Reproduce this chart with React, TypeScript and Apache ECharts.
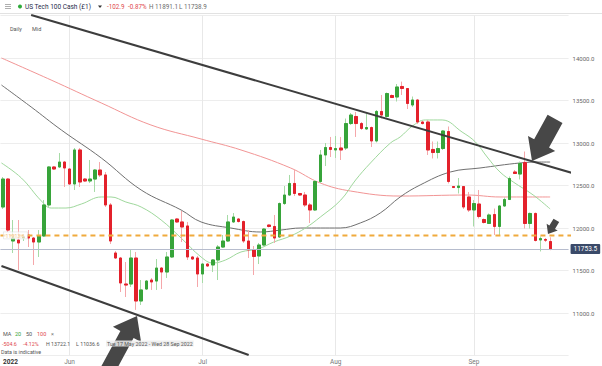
import React, { useEffect, useRef } from 'react';
import * as echarts from 'echarts';

const FONT = 'Roboto, "Noto Sans", sans-serif';
const TOTAL_SLOTS = 111; // Sun–Fri trading slots shown on the axis (from Tue 17 May 2022)

// Daily candles (open, close, low, high), Tue 17 May 2022 onwards
const opens = [
  12247, 12576, 11847, 11859, 11882, 11918, 11882, 11835, 11906, 12271,
  12718, 12718, 12776, 12694, 12518, 12918, 12576, 12553, 12576, 12682,
  12624, 12271, 11706, 11647, 11341, 11341, 11647, 11141, 11282, 11388,
  11376, 11529, 11482, 11659, 12106, 12071, 12024, 11659, 11647, 11459,
  11576, 11565, 11624, 11776, 11847, 12071, 12106, 12076, 11847, 11741,
  11671, 11800, 12035, 12018, 11894, 12288, 12388, 12524, 12406, 12388,
  12271, 12212, 12547, 12859, 12947, 12918, 12941, 12941, 13229, 13312,
  13229, 13165, 13182, 13024, 13371, 13312, 13559, 13541, 13665, 13641,
  13447, 13506, 13247, 13247, 12924, 12888, 12935, 13135, 12488, 12476,
  12488, 12365, 12212, 12282, 12100, 12053, 12159, 12018, 12259, 12335,
  12659, 12635, 12771, 12053, 12171, 11859, 11865, 11841,
];
const closes = [
  12576, 11976, 11882, 11824, 11894, 11882, 11835, 11906, 12271, 12718,
  12694, 12776, 12706, 12518, 12918, 12541, 12553, 12576, 12682, 12624,
  12271, 11847, 11647, 11353, 11329, 11647, 11141, 11271, 11376, 11365,
  11529, 11482, 11659, 12094, 12071, 12012, 11659, 11635, 11459, 11576,
  11553, 11624, 11776, 11847, 12071, 12129, 12076, 11847, 11741, 11665,
  11800, 11988, 12018, 11882, 12288, 12388, 12524, 12406, 12388, 12271,
  12212, 12547, 12859, 12947, 12924, 12935, 12918, 13229, 13329, 13229,
  13171, 13182, 13024, 13371, 13329, 13582, 13535, 13659, 13641, 13465,
  13506, 13247, 13229, 12918, 12888, 12935, 13141, 12547, 12476, 12494,
  12247, 12212, 12288, 12135, 12065, 12153, 12018, 12259, 12335, 12582,
  12641, 12759, 12053, 12171, 11853, 11876, 11856, 11753.5,
];
const lows = [
  12224, 11953, 11706, 11506, 11847, 11776, 11565, 11659, 11894, 12247,
  12682, 12706, 12482, 12506, 12447, 12482, 12541, 12529, 12424, 12600,
  12247, 11812, 11635, 11247, 11188, 11306, 11036.6, 11094, 11271, 11271,
  11271, 11282, 11412, 11647, 12059, 11835, 11624, 11624, 11306, 11353,
  11541, 11482, 11388, 11765, 11835, 12059, 12065, 11824, 11647, 11447,
  11576, 11788, 12006, 11824, 11882, 12271, 12376, 12376, 12376, 12247,
  12059, 12200, 12529, 12729, 12835, 12824, 12800, 12918, 13212, 13071,
  13153, 13153, 12953, 13006, 13288, 13300, 13529, 13488, 13565, 13400,
  13424, 13224, 13218, 12859, 12818, 12818, 12918, 12524, 12471, 12406,
  12224, 12188, 12018, 12112, 12053, 12047, 11918, 11918, 12247, 12329,
  12635, 12571, 11994, 11994, 11841, 11724, 11835, 11738.9,
];
const highs = [
  12600, 12588, 12094, 12094, 11929, 11976, 11894, 11976, 12329, 12729,
  12729, 12882, 12788, 12706, 12941, 12941, 12588, 12800, 12694, 12776,
  12659, 12294, 11729, 11659, 11600, 11753, 11718, 11388, 11388, 11412,
  11635, 11541, 11718, 12106, 12118, 12200, 12071, 11671, 11671, 11588,
  11588, 11635, 11800, 11918, 12153, 12176, 12118, 12088, 11976, 11788,
  11824, 12000, 12041, 12153, 12300, 12494, 12624, 12682, 12412, 12424,
  12294, 12565, 12918, 13000, 13071, 13082, 13071, 13288, 13353, 13365,
  13247, 13347, 13194, 13388, 13565, 13594, 13571, 13694, 13722.1, 13647,
  13547, 13518, 13259, 13271, 13018, 13018, 13153, 13194, 12494, 12588,
  12494, 12424, 12329, 12447, 12112, 12171, 12229, 12271, 12359, 12606,
  12682, 12782, 12900, 12182, 12182, 11900, 11882, 11891.1,
];

// Moving averages: [slot index, value]
const ma20Idx = [-0.3, 3.6, 7.5, 9.4, 12.3, 15.3, 19.2, 21.1, 24.0, 27.0, 30.9, 34.8, 38.7, 41.0, 43.5, 46.5, 49.8, 52.9, 56.2, 59.1, 62.0, 66.0, 68.9, 71.8, 75.7, 77.6, 80.0, 82.5, 85.8, 89.7, 92.3, 94.6, 97.1, 99.7, 103.6, 106.9];
const ma20Val = [12765, 12588, 12318, 12235, 12235, 12282, 12365, 12365, 12306, 12247, 12094, 11882, 11659, 11588, 11624, 11718, 11753, 11835, 11906, 12000, 12129, 12329, 12565, 12765, 13000, 13071, 13200, 13271, 13271, 13129, 13012, 12835, 12659, 12541, 12388, 12224];
const ma50Idx = [-0.3, 5.5, 11.4, 19.2, 27.0, 34.8, 38.7, 44.5, 50.3, 54.3, 58.2, 65.9, 69.8, 73.7, 77.6, 81.5, 87.4, 93.2, 101.0, 104.9, 106.9];
const ma50Val = [13682, 13424, 13153, 12824, 12447, 12212, 12071, 12000, 11953, 11976, 12000, 12000, 12059, 12176, 12365, 12506, 12659, 12706, 12765, 12776, 12776];
const ma100Idx = [-0.3, 9.4, 19.2, 28.9, 38.7, 46.5, 56.2, 62.0, 67.9, 77.6, 90.7, 97.1, 106.9];
const ma100Val = [14000, 13741, 13471, 13212, 13047, 12918, 12706, 12529, 12435, 12376, 12388, 12365, 12365];

// Drawn trend channel lines: [slot index, price]
const upperTrend = [[5.5, 14506], [117.0, 12546]];
const lowerTrend = [[-0.3, 11553], [48.0, 10506]];

const levelPrice = 11913;
const levelLabel = '11913.6';
const lastPrice = 11753.5;

const yMin = 10500;
const yMax = 14500;
const yStep = 500;

const monthNames = ['Jan', 'Feb', 'Mar', 'Apr', 'May', 'Jun', 'Jul', 'Aug', 'Sep', 'Oct', 'Nov', 'Dec'];

function buildDates(): string[] {
  const out: string[] = [];
  const d = new Date(Date.UTC(2022, 4, 17));
  while (out.length < TOTAL_SLOTS) {
    if (d.getUTCDay() !== 6) out.push(d.toISOString().slice(0, 10));
    d.setUTCDate(d.getUTCDate() + 1);
  }
  return out;
}

function arrowPoints(tx: number, ty: number, dx: number, dy: number, len: number, headLen: number, headHalf: number, shaftHalf: number) {
  const n = Math.hypot(dx, dy);
  const ux = dx / n, uy = dy / n;
  const px = -uy, py = ux;
  const nx = tx - ux * headLen, ny = ty - uy * headLen;
  const bx = tx - ux * len, by = ty - uy * len;
  return [
    [tx, ty],
    [nx + px * headHalf, ny + py * headHalf],
    [nx + px * shaftHalf, ny + py * shaftHalf],
    [bx + px * shaftHalf, by + py * shaftHalf],
    [bx - px * shaftHalf, by - py * shaftHalf],
    [nx - px * shaftHalf, ny - py * shaftHalf],
    [nx - px * headHalf, ny - py * headHalf],
  ];
}

export default function App() {
  const ref = useRef<HTMLDivElement>(null);

  useEffect(() => {
    document.body.style.margin = '0';
    if (!ref.current) return;
    const chart = echarts.init(ref.current, undefined, { renderer: 'svg' });
    const dates = buildDates();
    const monthIdx: number[] = [];
    for (let i = 1; i < dates.length; i++) {
      if (dates[i].slice(5, 7) !== dates[i - 1].slice(5, 7)) monthIdx.push(i);
    }
    const labelSet = new Set<number>([0, ...monthIdx]);

    const wickData = opens.map((o, i) => [o, closes[i], lows[i], highs[i]]);
    const bodyData = opens.map((o, i) => [o, closes[i], Math.min(o, closes[i]), Math.max(o, closes[i])]);
    const pairs = (a: number[], b: number[]) => a.map((v, i) => [v, b[i]]);

    chart.setOption({
      animation: false,
      grid: { left: -0.87, top: 15.5, width: 569.43, height: 340 },
      xAxis: [
        {
          type: 'category',
          data: dates,
          boundaryGap: true,
          axisLine: { show: false },
          axisTick: { show: false },
          splitLine: { show: false },
          axisLabel: {
            interval: (i: number) => labelSet.has(i),
            formatter: (v: string, i: number) => (i === 0 ? '{y|2022}' : monthNames[parseInt(v.slice(5, 7), 10) - 1]),
            color: '#777',
            fontSize: 6.5,
            fontFamily: FONT,
            margin: 3,
            alignMinLabel: 'left',
            rich: { y: { color: '#333', fontSize: 6.5, fontWeight: 'bold', fontFamily: FONT } },
          },
        },
        { type: 'value', min: -0.5, max: TOTAL_SLOTS - 0.5, show: false },
      ],
      yAxis: {
        type: 'value',
        position: 'right',
        min: yMin,
        max: yMax,
        interval: yStep,
        axisLine: { show: false },
        axisTick: { show: false },
        splitLine: { lineStyle: { color: '#ededed', width: 1 } },
        axisLabel: {
          formatter: (v: number) => v.toFixed(1),
          color: '#666',
          fontSize: 6,
          fontFamily: FONT,
          margin: 4,
          showMinLabel: false,
          showMaxLabel: false,
        },
      },
      series: [
        {
          type: 'line',
          xAxisIndex: 1,
          data: [[monthIdx[0], yMax]],
          symbol: 'none',
          lineStyle: { opacity: 0 },
          silent: true,
          z: 0,
          markLine: {
            silent: true,
            symbol: ['none', 'none'],
            label: { show: false },
            lineStyle: { color: '#e8e8e8', width: 1, type: 'solid' },
            data: monthIdx.map((i) => ({ xAxis: i })),
            z: 0,
          },
        },
        { type: 'line', xAxisIndex: 1, data: pairs(ma100Idx, ma100Val), smooth: 0.4, symbol: 'none', lineStyle: { color: '#f29595', width: 1 }, z: 2, silent: true },
        { type: 'line', xAxisIndex: 1, data: pairs(ma50Idx, ma50Val), smooth: 0.4, symbol: 'none', lineStyle: { color: '#707070', width: 1 }, z: 2, silent: true },
        { type: 'line', xAxisIndex: 1, data: pairs(ma20Idx, ma20Val), smooth: 0.4, symbol: 'none', lineStyle: { color: '#9fd89c', width: 1 }, z: 2, silent: true },
        {
          type: 'candlestick',
          xAxisIndex: 0,
          data: wickData,
          barWidth: 3,
          silent: true,
          z: 3,
          itemStyle: { color: 'rgba(0,0,0,0)', color0: 'rgba(0,0,0,0)', borderColor: '#a6dba6', borderColor0: '#f5a7aa', borderWidth: 1 },
        },
        {
          type: 'candlestick',
          xAxisIndex: 0,
          data: bodyData,
          barWidth: 3,
          silent: true,
          z: 4,
          itemStyle: { color: '#37a43a', color0: '#e3212b', borderColor: '#37a43a', borderColor0: '#e3212b', borderWidth: 1 },
          markLine: {
            silent: true,
            symbol: ['none', 'none'],
            data: [{ yAxis: lastPrice }],
            lineStyle: { color: '#b6bccd', width: 1, type: 'solid' },
            label: {
              show: true,
              position: 'end',
              formatter: lastPrice.toFixed(1),
              color: '#fff',
              backgroundColor: '#3a4a69',
              fontSize: 6.5,
              fontFamily: FONT,
              padding: [2, 3, 1, 3],
              borderRadius: 1,
              distance: 2,
            },
          },
        },
        {
          type: 'line',
          xAxisIndex: 1,
          data: [[-0.5, levelPrice], [130, levelPrice]],
          symbol: 'none',
          clip: false,
          silent: true,
          z: 5,
          lineStyle: { color: '#f0aa3c', width: 2, type: [5, 4] },
        },
        { type: 'line', xAxisIndex: 1, data: upperTrend, symbol: 'none', clip: false, silent: true, z: 6, lineStyle: { color: '#3d3d3d', width: 2 } },
        { type: 'line', xAxisIndex: 1, data: lowerTrend, symbol: 'none', clip: false, silent: true, z: 6, lineStyle: { color: '#3d3d3d', width: 2 } },
      ],
    });

    const [lx, ly] = chart.convertToPixel({ xAxisIndex: 1, yAxisIndex: 0 }, [-0.3, levelPrice]) as number[];

    const txt = (x: number, y: number, text: string, fill: string, size: number, weight: string = 'normal') => ({
      type: 'text',
      x,
      y,
      z: 20,
      style: { text, fill, fontSize: size, fontFamily: FONT, fontWeight: weight, align: 'left', verticalAlign: 'middle' },
    });
    const arrowStyle = { fill: '#474747' };
    const rangeText = txt(106, 343.5, 'Tue 17 May 2022 - Wed 28 Sep 2022', '#555', 5.3);
    (rangeText.style as any).backgroundColor = 'rgba(236,236,236,0.85)';
    (rangeText.style as any).padding = [1, 1, 0, 1];

    chart.setOption({
      graphic: [
        { type: 'rect', shape: { x: 0, y: 0, width: 602, height: 13 }, style: { fill: '#fff' }, z: 15 },
        { type: 'line', shape: { x1: 0, y1: 13.5, x2: 602, y2: 13.5 }, style: { stroke: '#e2e2e2', lineWidth: 1 }, z: 16 },
        { type: 'line', shape: { x1: 5, y1: 4.5, x2: 11, y2: 4.5 }, style: { stroke: '#9a9a9a', lineWidth: 0.8 }, z: 20 },
        { type: 'line', shape: { x1: 5, y1: 6.5, x2: 11, y2: 6.5 }, style: { stroke: '#9a9a9a', lineWidth: 0.8 }, z: 20 },
        { type: 'line', shape: { x1: 5, y1: 8.5, x2: 11, y2: 8.5 }, style: { stroke: '#9a9a9a', lineWidth: 0.8 }, z: 20 },
        { type: 'circle', shape: { cx: 20, cy: 6.5, r: 2 }, style: { fill: '#2eaa3a' }, z: 20 },
        txt(25, 6.8, 'US Tech 100 Cash (£1)', '#1e2b4a', 6.5),
        { type: 'polygon', shape: { points: [[98, 5.5], [102, 5.5], [100, 8]] }, style: { fill: '#333' }, z: 20 },
        txt(107, 6.8, '-102.9', '#e0474c', 6.3),
        txt(128, 6.8, '-0.87%', '#e0474c', 6.3),
        txt(149, 6.8, 'H 11891.1', '#6a6a6a', 6.3),
        txt(179, 6.8, 'L 11738.9', '#6a6a6a', 6.3),
        txt(10, 29, 'Daily', '#555', 5.5),
        txt(32, 29, 'Mid', '#555', 5.5),
        {
          type: 'rect',
          shape: { x: lx + 2, y: ly - 3.5, width: 24, height: 7 },
          style: { fill: 'rgba(255,255,255,0.7)', stroke: '#dddddd', lineWidth: 0.6 },
          z: 18,
        },
        { ...txt(lx + 4, ly + 0.3, levelLabel, '#f2c48a', 5.3), z: 19 },
        { type: 'polygon', shape: { points: arrowPoints(137, 316, 0.476, -0.88, 66, 21, 16, 7.5) }, style: arrowStyle, z: 12 },
        { type: 'polygon', shape: { points: arrowPoints(532, 161, -0.48, 0.877, 48, 20, 15.5, 8.5) }, style: arrowStyle, z: 12 },
        { type: 'polygon', shape: { points: arrowPoints(548, 234, -0.52, 0.85, 16, 8, 6.5, 3.3) }, style: arrowStyle, z: 12 },
        txt(3, 334, 'MA', '#555', 5.5),
        txt(15, 334, '20', '#37a43a', 5.5),
        txt(26, 334, '50', '#555', 5.5),
        txt(37, 334, '100', '#e0474c', 5.5),
        txt(51, 334, '×', '#777', 5.5),
        txt(2, 343.5, '-504.6', '#e0474c', 5.3),
        txt(23, 343.5, '-4.12%', '#e0474c', 5.3),
        txt(46, 343.5, 'H 13722.1', '#555', 5.3),
        txt(76, 343.5, 'L 11036.6', '#555', 5.3),
        rangeText,
        txt(1, 351.5, 'Data is indicative', '#555', 5.3),
      ],
    });

    return () => chart.dispose();
  }, []);

  return <div ref={ref} style={{ width: 602, height: 366 }} />;
}
